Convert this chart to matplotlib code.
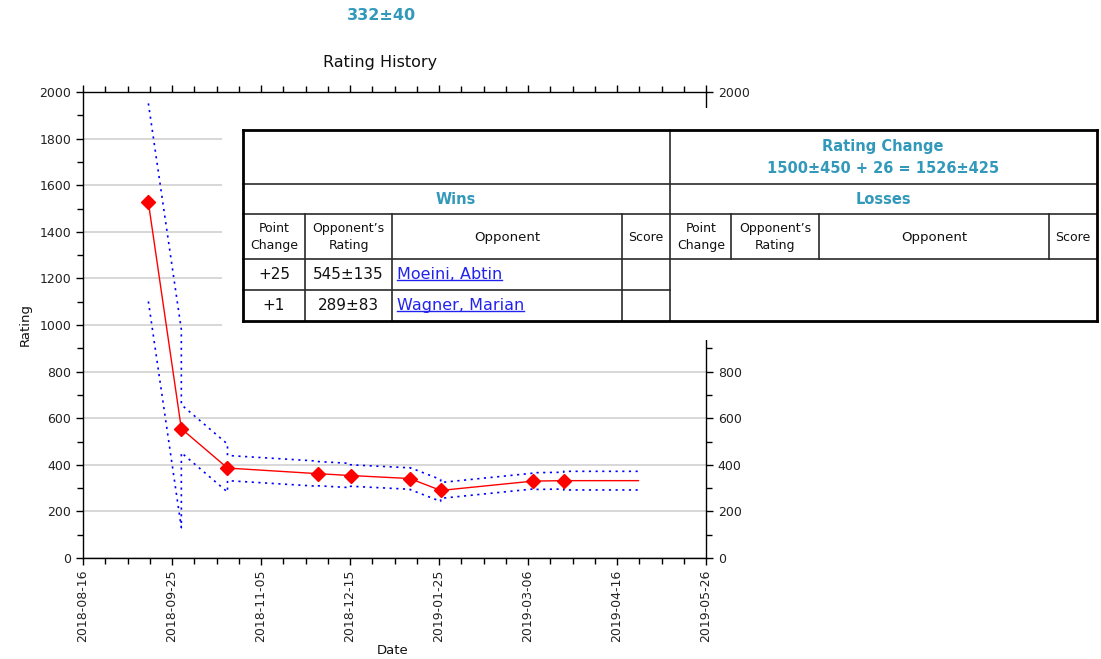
import numpy as np
import matplotlib
matplotlib.use("Agg")
import matplotlib.pyplot as plt
import matplotlib.dates as mdates
from matplotlib.lines import Line2D
from matplotlib.patches import Rectangle

# --- dati ---
game_dates = ["2018-09-15", "2018-09-30", "2018-10-21", "2018-12-01", "2018-12-16",
              "2019-01-12", "2019-01-26", "2019-03-09", "2019-03-23"]
game_ratings = [1526, 555, 386, 362, 354, 341, 290, 330, 332]
game_devs = [425, 103, 54, 52, 46, 47, 34, 36, 40]
today_date = "2019-04-26"

xtick_labels = ["2018-08-16", "2018-09-25", "2018-11-05", "2018-12-15",
                "2019-01-25", "2019-03-06", "2019-04-16", "2019-05-26"]

current_text = "332±40"
change_text = "1500±450 + 26 = 1526±425"
win_points = ["+25", "+1"]
win_opp_ratings = ["545±135", "289±83"]
win_opponents = ["Moeini, Abtin", "Wagner, Marian"]

TEAL = "#3399BB"
LINK = "#2222EE"
W, H = 1101, 659


def fx(x):
    return x / W


def fy(y):
    return 1 - y / H


fig = plt.figure(figsize=(W / 100, H / 100), dpi=100)
ax = fig.add_axes([fx(83), fy(558), (706 - 83) / W, (558 - 92) / H])

# serie: rating + banda (valore prima e dopo ogni partita)
dates = [mdates.datestr2num(d) for d in game_dates] + [mdates.datestr2num(today_date)]
ratings = game_ratings + [game_ratings[-1]]
devs = game_devs + [game_devs[-1]]

bx, up, lo = [dates[0]], [ratings[0] + devs[0]], [ratings[0] - devs[0]]
for i in range(1, len(dates)):
    for d in (devs[i - 1], devs[i]):
        bx.append(dates[i])
        up.append(ratings[i] + d)
        lo.append(ratings[i] - d)

ax.plot(bx, up, color="#0000ff", lw=1.2, ls=(0, (1.3, 2.7)), zorder=3)
ax.plot(bx, lo, color="#0000ff", lw=1.2, ls=(0, (1.3, 2.7)), zorder=3)
ax.plot(dates, ratings, color="#ff0000", lw=1.0, zorder=4)
ax.plot(dates[:-1], ratings[:-1], ls="none", marker="D", ms=7,
        color="#ff0000", zorder=5)

# assi
x0 = mdates.datestr2num("2018-08-16") + 0.25
span = 283.5
ax.set_xlim(x0, x0 + span)
ax.set_xticks(np.linspace(x0, x0 + span, 8))
ax.set_xticks(np.linspace(x0, x0 + span, 29), minor=True)
ax.set_xticklabels(xtick_labels, rotation=90)
ax.set_ylim(0, 2000)
ax.set_yticks(np.arange(0, 2001, 200))
ax.set_yticks(np.arange(0, 2001, 100), minor=True)
ax.grid(axis="y", which="major", color="#d4d4d4", lw=1.3)
ax.tick_params(which="both", direction="out", top=True, right=True,
               labelright=True, labelsize=9, labelcolor="#222222", width=1)
ax.tick_params(which="major", length=5)
ax.tick_params(which="minor", length=4)
for s in ax.spines.values():
    s.set_color("black")
    s.set_linewidth(1)

# le etichette di destra sotto la tabella non si vedono comunque
for tk, v in zip(ax.yaxis.get_major_ticks(), ax.get_yticks()):
    if 1000 <= v <= 1800:
        tk.label2.set_visible(False)

fig.text(fx(381), fy(16), current_text, color=TEAL, fontsize=11.5,
         fontweight="bold", ha="center", va="center")
fig.text(fx(380), fy(62), "Rating History", fontsize=11.5, ha="center",
         va="center", color="#111111")
fig.text(fx(25), fy(325), "Rating", fontsize=9.5, rotation=90, ha="center",
         va="center", color="#111111")
fig.text(fx(393), fy(651), "Date", fontsize=9.5, ha="center", va="center",
         color="#111111")

# --- tabella sovrapposta ---
fig.add_artist(Rectangle((fx(222), fy(340)), (W - 222) / W, (340 - 108) / H,
                         transform=fig.transFigure, facecolor="white",
                         edgecolor="none", zorder=10))


def hline(y, xa, xb, lw=1.2, c="#2a2a2a"):
    fig.add_artist(Line2D([fx(xa), fx(xb)], [fy(y), fy(y)], lw=lw, color=c,
                          zorder=11))


def vline(x, ya, yb, lw=1.2, c="#2a2a2a"):
    fig.add_artist(Line2D([fx(x), fx(x)], [fy(ya), fy(yb)], lw=lw, color=c,
                          zorder=11))


def txt(x, y, s, **kw):
    kw.setdefault("ha", "center")
    return fig.text(fx(x), fy(y), s, va="center", zorder=12, **kw)


L, R, T, B, M = 243, 1097, 130, 321, 670
for y in (184, 214, 259):
    hline(y, L, R)
hline(290, L, M)
vline(M, T, B)
for x in (305, 392, 622):
    vline(x, 214, B)
for x in (731, 819, 1049):
    vline(x, 214, 259)
hline(T, L, R, lw=2, c="black")
hline(B, L, R, lw=2, c="black")
vline(L, T, B, lw=2, c="black")
vline(R, T, B, lw=2, c="black")

txt(883, 146, "Rating Change", color=TEAL, fontsize=10.5, fontweight="bold")
txt(883, 169, change_text, color=TEAL, fontsize=10.5, fontweight="bold")
txt(456, 199, "Wins", color=TEAL, fontsize=10.5, fontweight="bold")
txt(883, 199, "Losses", color=TEAL, fontsize=10.5, fontweight="bold")

for off in (0, M - L):
    txt(274 + off, 237, "Point\nChange", fontsize=9, linespacing=1.35, color="#111111")
    txt(348.5 + off, 237, "Opponent’s\nRating", fontsize=9, linespacing=1.35, color="#111111")
    txt(507 + off, 237, "Opponent", fontsize=9.5, color="#111111")
    txt(646 + off, 237, "Score", fontsize=9, color="#111111")

links = []
for i, yy in enumerate((274.5, 305.5)):
    txt(274, yy, win_points[i], fontsize=11, color="#111111")
    txt(348.5, yy, win_opp_ratings[i], fontsize=11, color="#111111")
    links.append(txt(397, yy, win_opponents[i], fontsize=11.5, color=LINK, ha="left"))

# sottolineatura dei link
fig.canvas.draw()
for t in links:
    bb = t.get_window_extent()
    fig.add_artist(Line2D([bb.x0 / W, bb.x1 / W], [(bb.y0 + 2) / H] * 2,
                          lw=1, color=LINK, zorder=12))

fig.savefig("out.png", dpi=100)
